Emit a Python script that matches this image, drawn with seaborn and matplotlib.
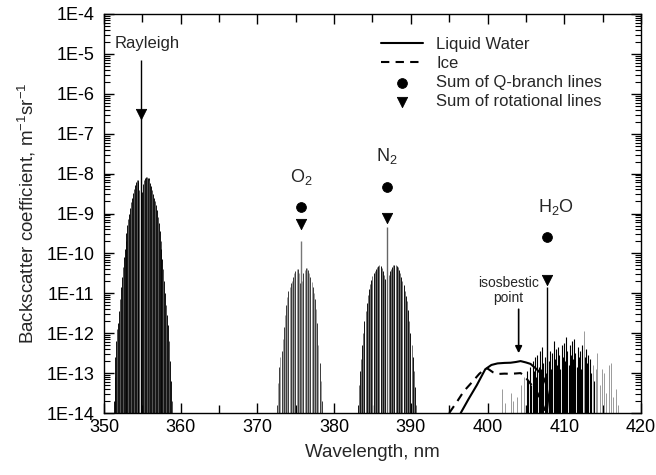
import numpy as np
import matplotlib
matplotlib.use("Agg")
import matplotlib.pyplot as plt
import seaborn as sns
from matplotlib.ticker import FixedLocator, LogLocator, MultipleLocator, NullFormatter

# ---------------- data (wavelength in nm, heights as log10 of backscatter) -------------
rayleigh_pos = [351.25, 351.37, 351.49, 351.61, 351.73, 351.85, 351.97, 352.09, 352.21, 352.33,
                352.45, 352.57, 352.69, 352.81, 352.93, 353.05, 353.17, 353.29, 353.41, 353.53,
                353.65, 353.77, 353.89, 354.01, 354.13, 354.25, 354.37, 354.49, 354.61,
                354.97, 355.09, 355.21, 355.33, 355.45, 355.57, 355.69, 355.81, 355.93, 356.05,
                356.17, 356.29, 356.41, 356.53, 356.65, 356.77, 356.89, 357.01, 357.13, 357.25,
                357.37, 357.49, 357.61, 357.73, 357.85, 357.97, 358.09, 358.21, 358.33, 358.45,
                358.57, 358.69, 358.81]
rayleigh_log = [-13.7, -13.1, -12.6, -12.2, -11.9, -11.75, -11.45, -11.15, -10.85, -10.6,
                -10.35, -10.1, -9.9, -9.7, -9.5, -9.3, -9.15, -9.0, -8.85, -8.72,
                -8.6, -8.48, -8.38, -8.28, -8.2, -8.15, -8.15, -8.2, -8.4,
                -8.45, -8.25, -8.15, -8.1, -8.08, -8.08, -8.1, -8.12, -8.17, -8.24,
                -8.32, -8.41, -8.5, -8.6, -8.68, -8.78, -8.92, -9.08, -9.25, -9.45,
                -9.7, -9.9, -10.15, -10.4, -10.7, -11.0, -11.3, -11.55, -11.8, -12.2,
                -12.7, -13.2, -13.7]

o2_pos = [372.55, 372.7, 372.85, 373.0, 373.15, 373.3, 373.45, 373.6, 373.75, 373.9,
          374.05, 374.2, 374.35, 374.5, 374.65, 374.8, 374.95, 375.1, 375.25, 375.4, 375.55,
          375.85, 376.0, 376.15, 376.3, 376.45, 376.6, 376.75, 376.9, 377.05, 377.2,
          377.35, 377.5, 377.65, 377.8, 377.95, 378.1, 378.25, 378.4]
o2_log = [-13.8, -13.25, -12.85, -12.6, -12.45, -12.15, -11.85, -11.55, -11.3, -11.1,
          -10.95, -10.85, -10.75, -10.68, -10.58, -10.5, -10.43, -10.38, -10.4, -10.5, -10.75,
          -10.7, -10.5, -10.42, -10.37, -10.37, -10.42, -10.5, -10.6, -10.72, -10.85,
          -11.0, -11.15, -11.4, -11.75, -12.3, -12.75, -13.2, -13.7]

n2_pos = [383.05, 383.2, 383.35, 383.5, 383.65, 383.8, 383.95, 384.1, 384.25, 384.4,
          384.55, 384.7, 384.85, 385.0, 385.15, 385.3, 385.45, 385.6, 385.75, 385.9,
          386.05, 386.2, 386.35, 386.5, 386.65,
          387.1, 387.25, 387.4, 387.55, 387.7, 387.85, 388.0, 388.15, 388.3, 388.45,
          388.6, 388.75, 388.9, 389.05, 389.2, 389.35, 389.5, 389.65, 389.8, 389.95,
          390.1, 390.25, 390.4, 390.55, 390.7]
n2_log = [-13.8, -13.3, -12.95, -12.65, -12.3, -12.0, -11.7, -11.45, -11.25, -11.05,
          -10.9, -10.77, -10.66, -10.57, -10.5, -10.44, -10.39, -10.35, -10.32, -10.3,
          -10.31, -10.36, -10.45, -10.55, -10.65,
          -10.55, -10.45, -10.38, -10.33, -10.3, -10.29, -10.29, -10.31, -10.35, -10.42,
          -10.5, -10.58, -10.68, -10.8, -10.93, -11.06, -11.2, -11.42, -11.7, -12.0,
          -12.3, -12.6, -12.95, -13.35, -13.8]

h2o_dark_pos = [405.1, 405.3, 405.5, 405.7, 405.9, 406.05, 406.2, 406.35, 406.5, 406.65,
                406.8, 406.95, 407.1, 407.25, 407.45, 407.6, 408.0, 408.15, 408.3, 408.45,
                408.6, 408.75, 408.9, 409.05, 409.2, 409.35, 409.5, 409.65, 409.8, 409.95,
                410.1, 410.25, 410.4, 410.55, 410.7, 410.85, 411.0, 411.15, 411.3, 411.45,
                411.6, 411.75, 411.9, 412.05, 412.2, 412.35, 412.7, 412.85, 413.0, 413.15,
                413.35, 413.5, 413.9]
h2o_dark_log = [-12.95, -13.2, -12.85, -13.3, -12.7, -12.95, -12.6, -13.1, -12.55, -12.85,
                -12.45, -12.9, -12.35, -12.75, -12.6, -13.0, -12.7, -12.45, -12.9, -12.5,
                -12.2, -12.65, -12.4, -12.8, -12.35, -12.55, -12.9, -12.3, -12.6, -12.25,
                -12.7, -12.1, -12.45, -12.8, -12.3, -12.55, -12.2, -12.65, -12.15, -12.5,
                -12.85, -12.35, -12.6, -12.45, -12.9, -12.3, -12.6, -12.4, -12.75, -12.55,
                -12.65, -13.0, -13.2]
h2o_light_pos = [401.9, 402.3, 403.0, 403.3, 403.9, 404.4, 404.8, 412.55, 413.7, 414.1,
                 414.3, 414.6, 414.9, 415.2, 415.5, 415.8, 416.1, 416.4, 416.7, 417.0]
h2o_light_log = [-13.4, -13.75, -13.5, -13.7, -13.6, -13.3, -13.1, -11.95, -12.8, -12.9,
                 -12.5, -13.3, -12.9, -13.0, -13.5, -12.8, -12.75, -13.6, -13.4, -13.8]

# central lines: Rayleigh, O2 Q, N2 Q, H2O Q
central_pos = [354.8, 375.7, 386.9, 407.8]
central_log = [-5.15, -9.68, -9.35, -10.83]

# Sum markers
q_sum_pos = [375.7, 386.9, 407.8]
q_sum_val = [1.44e-9, 4.5e-9, 2.6e-10]
rot_sum_pos = [354.8, 375.7, 386.9, 407.8]
rot_sum_val = [3.2e-7, 5.5e-10, 7.6e-10, 2.1e-11]

# Liquid water and ice spectra
water_wl = [396.5, 397.5, 398.6, 399.7, 400.5, 401.3, 402.2, 403.0, 403.7, 404.3, 405.0,
            405.6, 406.3, 406.9, 407.3, 407.6, 408.0, 408.2]
water_val = [1.0e-14, 2.2e-14, 5.0e-14, 1.25e-13, 1.6e-13, 1.75e-13, 1.8e-13, 1.82e-13,
             1.9e-13, 2.0e-13, 1.85e-13, 1.7e-13, 1.3e-13, 1.0e-13, 7.5e-14, 5.5e-14,
             2.1e-14, 1.0e-14]
ice_wl = [395.0, 396.0, 396.9, 398.0, 398.9, 399.6, 400.0, 400.7, 401.3, 402.2, 403.0,
          403.7, 404.3, 404.8, 405.2, 405.9, 406.5, 407.1, 407.6]
ice_val = [1.0e-14, 1.9e-14, 3.5e-14, 6.0e-14, 9.5e-14, 1.25e-13, 1.3e-13, 1.05e-13,
           9.5e-14, 9.7e-14, 9.6e-14, 9.8e-14, 1.0e-13, 8.5e-14, 6.8e-14, 4.6e-14, 3.2e-14,
           1.8e-14, 1.0e-14]

ytick_vals = [1e-14, 1e-13, 1e-12, 1e-11, 1e-10, 1e-9, 1e-8, 1e-7, 1e-6, 1e-5, 1e-4]
ytick_labels = ["1E-14", "1E-13", "1E-12", "1E-11", "1E-10", "1E-9", "1E-8", "1E-7",
                "1E-6", "1E-5", "1E-4"]
xtick_vals = [350, 360, 370, 380, 390, 400, 410, 420]

# ---------------- plotting ----------------
sns.set_theme(style="ticks")
plt.rcParams["font.family"] = ["Liberation Sans", "DejaVu Sans"]
plt.rcParams["mathtext.fontset"] = "custom"
plt.rcParams["mathtext.rm"] = "Liberation Sans"
plt.rcParams["mathtext.it"] = "Liberation Sans:italic"

fig = plt.figure(figsize=(6.56, 4.75), dpi=100)
ax = fig.add_axes([104 / 656, 1 - 413 / 475, (641 - 104) / 656, (413 - 14) / 475])
ax.set_yscale("log")
ax.set_xlim(350, 420)
ax.set_ylim(1e-14, 1e-4)

base = 1e-15
pw = lambda l: [10.0 ** v for v in l]

ray_cols = ["#444444" if i % 3 == 1 else "black" for i in range(len(rayleigh_pos))]
ax.vlines(rayleigh_pos, base, pw(rayleigh_log), colors=ray_cols, lw=0.65)
o2_cols = ["#8a8a8a" if i % 2 else "#1a1a1a" for i in range(len(o2_pos))]
ax.vlines(o2_pos, base, pw(o2_log), colors=o2_cols, lw=0.6)
n2_cols = ["#6e6e6e" if i % 2 else "#111111" for i in range(len(n2_pos))]
ax.vlines(n2_pos, base, pw(n2_log), colors=n2_cols, lw=0.7)
ax.vlines(h2o_light_pos, base, pw(h2o_light_log), colors="#9a9a9a", lw=0.7)
ax.vlines(h2o_dark_pos, base, pw(h2o_dark_log), colors="black", lw=0.8)
ax.vlines(central_pos, base, pw(central_log),
          colors=["black", "#777777", "#666666", "black"], lw=1.0)

sns.lineplot(x=water_wl, y=water_val, ax=ax, color="black", lw=1.5, label="Liquid Water",
             sort=False)
sns.lineplot(x=ice_wl, y=ice_val, ax=ax, color="black", lw=1.5, linestyle=(0, (4, 3)),
             label="Ice", sort=False)
sns.scatterplot(x=q_sum_pos, y=q_sum_val, ax=ax, marker="o", s=50, color="black",
                edgecolor="black", label="Sum of Q-branch lines", zorder=5)
sns.scatterplot(x=rot_sum_pos, y=rot_sum_val, ax=ax, marker="v", s=55, color="black",
                edgecolor="black", label="Sum of rotational lines", zorder=5)

# annotations
ax.text(355.6, 10 ** -4.73, "Rayleigh", ha="center", va="center", fontsize=12)
ax.text(375.7, 10 ** -8.08, "O$_2$", ha="center", va="center", fontsize=13)
ax.text(386.9, 10 ** -7.55, "N$_2$", ha="center", va="center", fontsize=13)
ax.text(408.9, 10 ** -8.84, "H$_2$O", ha="center", va="center", fontsize=13)
ax.text(402.7, 10 ** -10.92, "isosbestic\npoint", ha="center", va="center", fontsize=10,
        linespacing=1.1)
ax.annotate("", xy=(404.05, 10 ** -12.5), xytext=(404.05, 10 ** -11.4),
            arrowprops=dict(arrowstyle="-|>", color="black", lw=1.2, mutation_scale=10,
                            shrinkA=0, shrinkB=0))

# axes styling
ax.yaxis.set_major_locator(FixedLocator(ytick_vals))
ax.set_yticklabels(ytick_labels)
ax.yaxis.set_minor_locator(LogLocator(base=10, subs=np.arange(2, 10), numticks=100))
ax.yaxis.set_minor_formatter(NullFormatter())
ax.xaxis.set_major_locator(FixedLocator(xtick_vals))
ax.set_xticklabels([str(v) for v in xtick_vals])
ax.xaxis.set_minor_locator(MultipleLocator(5))
ax.tick_params(which="both", direction="in", top=True, right=True, colors="black",
               labelsize=13)
ax.tick_params(axis="y", which="major", length=7, width=1, pad=7)
ax.tick_params(axis="y", which="minor", length=4, width=0.8)
ax.tick_params(axis="x", which="major", length=7, width=1, pad=4)
ax.tick_params(axis="x", which="minor", length=6, width=1)
for s in ax.spines.values():
    s.set_linewidth(1.0)
    s.set_color("black")

ax.set_xlabel("Wavelength, nm", fontsize=13.5, labelpad=6)
ax.set_ylabel("Backscatter coefficient, m$^{-1}$sr$^{-1}$", fontsize=13.5, labelpad=6)

ax.legend(loc="upper left", bbox_to_anchor=(381 / 656, 1 - 37 / 475),
          bbox_transform=fig.transFigure, frameon=False, fontsize=12, handlelength=2.5,
          handletextpad=0.8, labelspacing=0.25, borderpad=0, borderaxespad=0,
          markerscale=1.0)

fig.savefig("out.png", dpi=100)
